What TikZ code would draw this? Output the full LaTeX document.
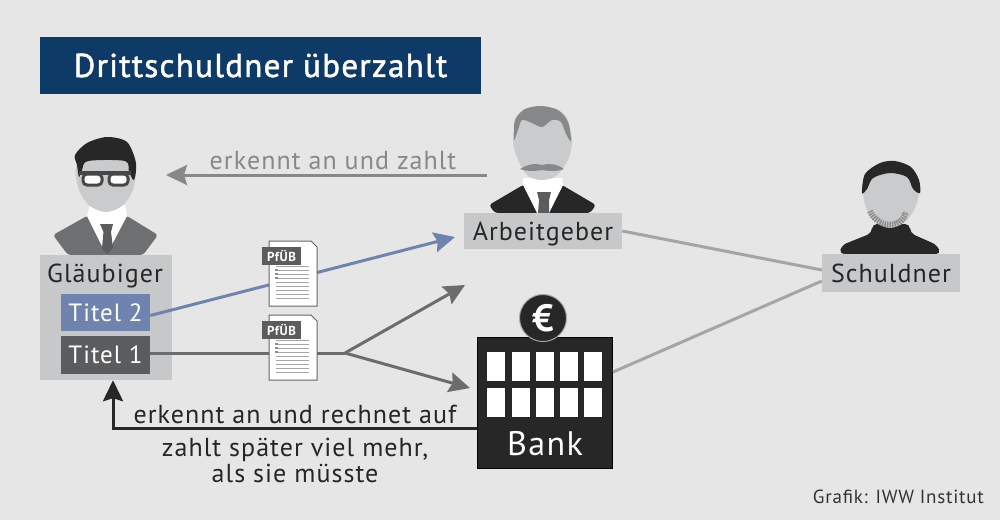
\documentclass[tikz,border=0pt]{standalone}
\usepackage{fontspec}
\setmainfont{PT Sans}[LetterSpace=4]
\newfontfamily\titlefont{PT Sans}[LetterSpace=4,FakeBold=1.5]
\usetikzlibrary{arrows.meta,calc}
\definecolor{paper}{HTML}{E6E6E6}
\definecolor{navy}{HTML}{0E3A68}
\definecolor{boxgray}{HTML}{C6C8CA}
\definecolor{skin}{HTML}{C9CBCD}
\definecolor{suitgray}{HTML}{6E6F71}
\definecolor{inkdark}{HTML}{272728}
\definecolor{titelblue}{HTML}{6F83AE}
\definecolor{titeldark}{HTML}{5B5C5E}
\definecolor{midgray}{HTML}{87888A}
\definecolor{linegray}{HTML}{A3A5A7}
\newcommand{\sized}[1]{\fontsize{#1}{#1}\selectfont}
\tikzset{
    >={Stealth[length=21pt,width=20pt,inset=3pt]},
    plainbox/.style={
        fill=boxgray,
        text=black!85,
        font=\sized{26},
        inner sep=0pt,
        text height=21pt,
        text depth=3pt,
    },
    titelbox/.style={
        text=white,
        font=\sized{25},
        inner sep=0pt,
        minimum width=89pt,
    },
    caption/.style={
        font=\sized{26},
        inner sep=0pt,
        text=black!85,
    },
    arrowline/.style={
        line width=3pt,
        ->,
    },
    tagbox/.style={
        fill=titeldark,
        text=white,
        font=\sized{13}\bfseries,
        inner sep=0pt,
        minimum width=39pt,
        minimum height=18pt,
    },
}
\newcommand{\pfuebdoc}[2]{
    \begin{scope}[shift={(0,#2)}]
        \draw[fill=white,draw=black!60,line width=1pt] (269,0) -- (311,0) -- (317,6) -- (317,65) -- (269,65) -- cycle;
        \foreach \y in {25,29,...,57}
            \draw[black!35,line width=1pt] (276,\y) -- (309,\y);
        \foreach \y in {29,33,37}
            \fill[black!45] (275,\y-1) rectangle (278,\y+1);
        \node[tagbox] (#1) at (281.5,15) {PfÜB};
    \end{scope}
}
\begin{document}
\begin{tikzpicture}[x=1pt,y=-1pt]
    \useasboundingbox (0,0) rectangle (1000,520);
    \fill[paper] (0,0) rectangle (1000,520);

    \node[fill=navy,text=white,font=\sized{33}\titlefont,inner sep=0pt,minimum width=441pt,minimum height=57pt] (title) at (260.5,65.5) {Drittschuldner überzahlt};

    % glaeubiger figure
    \fill[suitgray,rounded corners=3pt] (53,235) -- (87,216) -- (127,216) -- (158,235) -- (143,255) -- (68,255) -- cycle;
    \fill[white] (87,216) -- (90,205) -- (125,205) -- (127,216) -- (106.5,255) -- cycle;
    \fill[titeldark] (100,224) -- (113,224) -- (111,232) -- (113,248) -- (106.5,255) -- (102,248) -- (103.5,232) -- cycle;
    \fill[skin] plot[smooth cycle] coordinates {(77,165) (106,153) (134,165) (133,190) (122,206) (106,212) (90,206) (79,190)};
    \fill[inkdark] plot[smooth cycle] coordinates {(75,155) (87,143) (107,137) (127,142) (136,163) (134,180) (129,172) (125,161) (88,161) (82,170) (79,177) (77,165)};
    \fill[inkdark!85] (79,171) rectangle (131,175);
    \fill[white,draw=inkdark!85,line width=3pt,rounded corners=4pt] (83,174) rectangle (102,185);
    \fill[white,draw=inkdark!85,line width=3pt,rounded corners=4pt] (109,174) rectangle (128,185);

    % arbeitgeber figure
    \fill[inkdark,rounded corners=3pt] (489,205) -- (523,185) -- (562,185) -- (596,205) -- (590,213) -- (495,213) -- cycle;
    \fill[white] (523,178) -- (562,178) -- (563,185) -- (549,213) -- (537,213) -- (523,185) -- cycle;
    \fill[titeldark] (537,192) -- (551,192) -- (549,200) -- (549,213) -- (538,213) -- (539,200) -- cycle;
    \fill[skin] plot[smooth cycle] coordinates {(513,140) (520,115) (542,107) (565,115) (572,140) (568,160) (556,176) (542,180) (528,176) (518,160)};
    \fill[midgray] plot[smooth cycle] coordinates {(514,140) (515,120) (525,109) (541,106) (558,110) (568,122) (571,141) (566,134) (561,122) (552,120) (542,127) (532,123) (522,120) (518,130)};
    \fill[midgray] (520,169) .. controls (528,164) and (536,163) .. (542,165) .. controls (549,163) and (557,164) .. (564,169) .. controls (556,172) and (548,171) .. (542,170) .. controls (536,171) and (528,172) .. (520,169) -- cycle;

    % schuldner figure
    \fill[inkdark,rounded corners=5pt] (839,254) -- (842,245) -- (872,233) -- (872,224) -- (910,224) -- (910,233) -- (937,245) -- (941,254) -- cycle;
    \fill[skin] plot[smooth cycle] coordinates {(863,190) (868,172) (890,165) (912,172) (919,190) (915,208) (905,222) (890,228) (875,222) (866,208)};
    \fill[inkdark] plot[smooth cycle] coordinates {(862,193) (865,174) (880,163) (895,161) (911,167) (919,180) (920,193) (913,189) (907,177) (890,173) (873,178) (867,189)};
    \draw[black!45,line width=6pt,dash pattern=on 1.5pt off 1pt] (870,211) .. controls (876,226) and (900,232) .. (906,212);

    % boxes
    \node[plainbox,minimum width=132pt,minimum height=125pt,text height=0pt,text depth=0pt] (glaeubiger) at (106,317.5) {};
    \node[caption] (glaeubigerlabel) at (105,276) {Gläubiger};
    \node[titelbox,fill=titelblue,minimum height=37pt] (titelzwei) at (105.5,312.5) {Titel 2};
    \node[titelbox,fill=titeldark,minimum height=38pt] (titeleins) at (105.5,355) {Titel 1};
    \node[plainbox,minimum width=158pt,minimum height=36pt] (arbeitgeber) at (543,231) {Arbeitgeber};
    \node[plainbox,minimum width=138pt,minimum height=38pt] (schuldner) at (891,273) {Schuldner};
    \node[fill=inkdark,draw=black,line width=1pt,inner sep=0pt,minimum width=135pt,minimum height=131pt] (bank) at (545,403) {};
    \node[text=white,font=\sized{34},inner sep=0pt] (banklabel) at (545,444) {Bank};
    \foreach \x in {487,511.5,536,560,584}
        \foreach \y in {352,388}
            \fill[white] (\x,\y) rectangle ++(18,29);
    \node[circle,fill=inkdark,draw=black!35,line width=1pt,text=white,font=\sized{38}\bfseries,inner sep=0pt,minimum size=47pt] (euro) at (543,318) {€};

    % connectors
    \coordinate (zahltstart) at (487,175);
    \coordinate (zahltend) at (166,175);
    \coordinate (blueend) at (455,237);
    \coordinate (split) at (345,353);
    \coordinate (upperend) at (465,285);
    \coordinate (lowerend) at (470,388);
    \coordinate (bankcorner) at (113,428);
    \draw[arrowline,midgray] (zahltstart) -- (zahltend);
    \draw[arrowline,titelblue] ($(titelzwei.east)+(0,3)$) -- (blueend);
    \draw[line width=3pt,titeldark!90] (titeleins.east |- split) -- (split);
    \draw[arrowline,titeldark!90] (split) -- (upperend);
    \draw[arrowline,titeldark!90] (split) -- (lowerend);
    \draw[line width=3pt,linegray] (arbeitgeber.east) -- ($(schuldner.west)+(0,-3)$);
    \draw[line width=3pt,linegray] ($(bank.east)+(0,-31)$) -- ($(schuldner.west)+(0,8)$);
    \draw[line width=3pt,inkdark,->] (bank.west |- bankcorner) -- (bankcorner) -- (bankcorner |- glaeubiger.south);

    % documents
    \pfuebdoc{tageins}{241}
    \pfuebdoc{tagzwei}{315}

    % texts
    \node[caption,text=midgray] (zahlttext) at (333,161) {erkennt an und zahlt};
    \node[caption] (aufrechnung) at (295,414) {erkennt an und rechnet auf};
    \node[caption,align=center] (spaeter) at (295,460) {zahlt später viel mehr,\\als sie müsste};
    \node[inner sep=0pt,anchor=east,font=\sized{19},text=black!80] (quelle) at (984,497) {Grafik: IWW Institut};
\end{tikzpicture}
\end{document}
